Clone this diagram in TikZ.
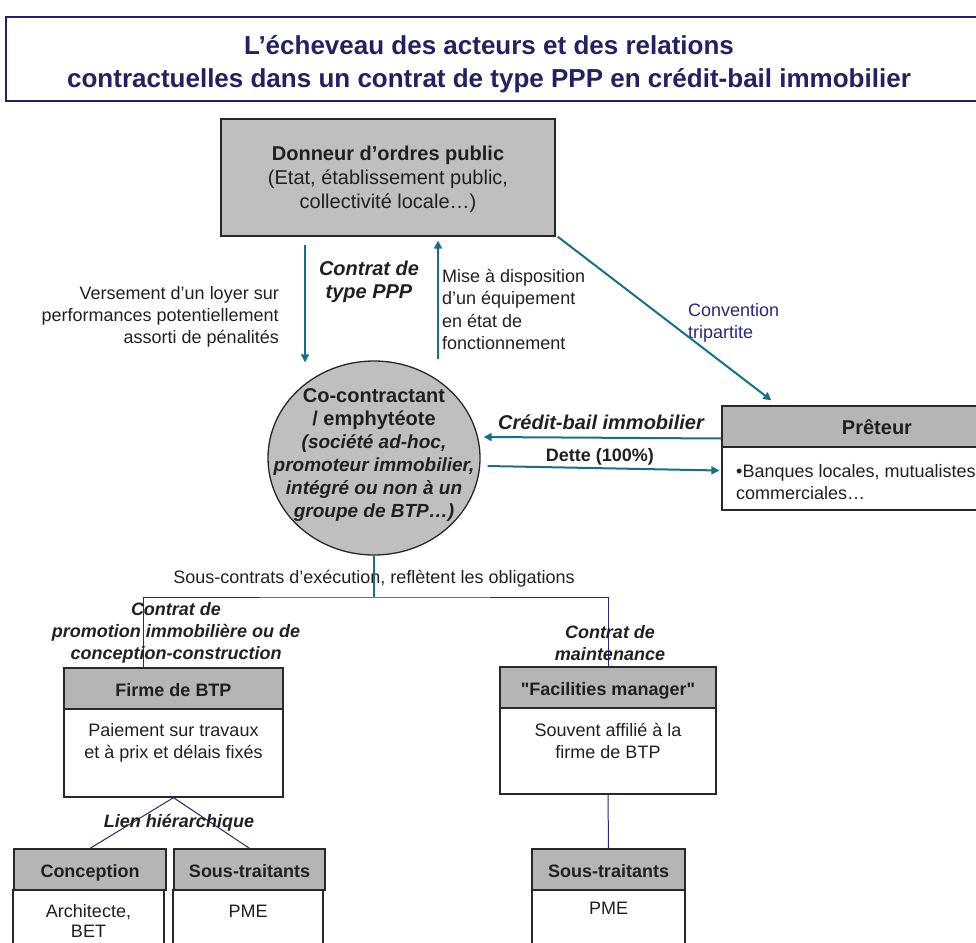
\documentclass[tikz,border=0pt]{standalone}
\usepackage{fontspec}
\setmainfont{Liberation Sans}[Ligatures=TeXOff]
\usetikzlibrary{shapes.geometric,arrows.meta}

\definecolor{navy}{RGB}{34,34,96}
\definecolor{linknavy}{RGB}{40,40,120}
\definecolor{petrol}{RGB}{26,112,130}
\definecolor{ink}{RGB}{35,31,32}
\definecolor{fillgrey}{RGB}{191,191,193}
\definecolor{headgrey}{RGB}{181,181,183}
\definecolor{edge}{RGB}{40,40,40}

\begin{document}
\begin{tikzpicture}[x=1pt,y=-1pt,
  every node/.style={inner sep=0pt,text=ink},
  headbox/.style={draw=edge,line width=1.3pt,fill=headgrey,text height=18pt,text depth=2pt,font=\fontsize{18}{22}\selectfont\bfseries},
  bodybox/.style={draw=edge,line width=1.3pt,fill=white},
  plain/.style={font=\fontsize{18}{22}\selectfont},
  bolditalic/.style={font=\fontsize{18}{22}\selectfont\bfseries\itshape},
  flow/.style={draw=petrol,line width=2pt,-{Triangle[width=8pt,length=8pt]}},
  tree/.style={draw=linknavy,line width=1pt}]
\useasboundingbox (0,0) rectangle (976,942);
\clip (0,0) rectangle (976,942);

% titre
\draw[navy,line width=1.5pt] (6,17) rectangle (995,101);
\draw (489,64.5) node[text=navy,align=center,font=\fontsize{26}{33}\selectfont\bfseries] (title) {L’écheveau des acteurs et des relations\\contractuelles dans un contrat de type PPP en crédit-bail immobilier};

% donneur d'ordres et co-contractant
\draw (388,177.5) node[draw=edge,line width=1.3pt,fill=fillgrey,minimum width=334pt,minimum height=117pt,text depth=0pt,align=center,font=\fontsize{20}{24}\selectfont] (don) {\textbf{Donneur d’ordres public}\\(Etat, établissement public,\\collectivité locale…)};

\draw (374,458) node[ellipse,draw=edge,line width=1.3pt,fill=fillgrey,minimum width=212pt,minimum height=194pt] (cc) {};
\draw (374,455) node[align=center,font=\fontsize{20}{23}\selectfont\bfseries] (cctext) {Co-contractant\\ / emphytéote\\ \fontsize{19}{23}\selectfont\itshape (société ad-hoc,\\ \fontsize{19}{23}\selectfont\itshape promoteur immobilier,\\ \fontsize{19}{23}\selectfont\itshape intégré ou non à un\\ \fontsize{19}{23}\selectfont\itshape groupe de BTP…)};

\draw (279,317) node[anchor=east,align=right,plain] (loyer) {Versement d’un loyer sur\\performances potentiellement\\assorti de pénalités};
\draw (369,282) node[align=center,font=\fontsize{20}{23}\selectfont\bfseries\itshape] (ppp) {Contrat de\\type PPP};
\draw (442,309.5) node[anchor=west,align=left,font=\fontsize{18}{22.5}\selectfont] (mise) {Mise à disposition\\d’un équipement\\en état de\\fonctionnement};

% preteur
\draw (877,426.5) node[headbox,font=\fontsize{20}{24}\selectfont\bfseries,minimum width=310pt,minimum height=41pt] (pret) {Prêteur};
\draw (877,478.5) node[bodybox,minimum width=310pt,minimum height=63pt] (pretbody) {};
\draw (736,482) node[anchor=west,align=left,plain] (banques) {•Banques locales, mutualistes\\commerciales…};
\draw (688,322.5) node[anchor=west,align=left,plain,text=linknavy] (conv) {Convention\\tripartite};
\draw (601,422) node[font=\fontsize{20}{24}\selectfont\bfseries\itshape] (cb) {Crédit-bail immobilier};
\draw (600,457) node[font=\fontsize{18}{22}\selectfont\bfseries] (dette) {Dette (100\%)};

\draw[flow] ([xshift=-83pt,yshift=-8.5pt]don.south) to ([xshift=-69pt,yshift=-2pt]cc.north);
\draw[flow] ([xshift=64pt,yshift=1pt]cc.north) to ([xshift=50pt,yshift=-4pt]don.south);
\draw[flow] ([xshift=2pt]don.south east) to ([xshift=50pt,yshift=5pt]pret.north west);
\draw[flow] ([yshift=-12pt]pret.west) to ([xshift=3pt,yshift=21pt]cc.east);
\draw[flow] ([xshift=7pt,yshift=-8pt]cc.east) to ([xshift=-2pt,yshift=8pt]pretbody.west);

% sous-contrats
\coordinate (split) at (374,597);
\draw (374,579) node[plain] (souscontrats) {Sous-contrats d’exécution, reflètent les obligations};

\draw (173.5,688.5) node[headbox,minimum width=219pt,minimum height=41pt] (btp) {Firme de BTP};
\draw (173.5,753) node[bodybox,minimum width=219pt,minimum height=88pt] (btpbody) {};
\draw (173.5,742.5) node[plain,align=center] (btptext) {Paiement sur travaux\\et à prix et délais fixés};

\draw (608,687.5) node[headbox,minimum width=216pt,minimum height=41pt] (fm) {"Facilities manager"};
\draw (608,751) node[bodybox,minimum width=216pt,minimum height=86pt] (fmbody) {};
\draw (608,741) node[plain,align=center] (fmtext) {Souvent affilié à la\\firme de BTP};

\draw[petrol,line width=1.5pt] (cc.south) to (split);
\draw[tree] ([xshift=-30.5pt]btp.north) |- (split) -| (fm.north);

\draw (176,633) node[bolditalic,align=center] (promo) {Contrat de\\promotion immobilière ou de\\conception-construction};
\draw (610,643) node[bolditalic,align=center] (maint) {Contrat de\\maintenance};

% niveau des sous-traitants
\draw (90,869.5) node[headbox,minimum width=152pt,minimum height=41pt] (conc) {Conception};
\draw (88.5,925) node[bodybox,minimum width=151pt,minimum height=70pt] (concbody) {};
\draw (88.5,921) node[align=center,font=\fontsize{18}{20}\selectfont] (conctext) {Architecte,\\BET};

\draw (249.5,869.5) node[headbox,minimum width=151pt,minimum height=41pt] (st1) {Sous-traitants};
\draw (248,925) node[bodybox,minimum width=150pt,minimum height=70pt] (st1body) {};
\draw (248,911) node[plain] (st1text) {PME};

\draw (608.5,869.5) node[headbox,minimum width=153pt,minimum height=41pt] (st2) {Sous-traitants};
\draw (608.5,925) node[bodybox,minimum width=153pt,minimum height=70pt] (st2body) {};
\draw (608.5,908) node[plain] (st2text) {PME};

\draw[tree] (btpbody.south) to (conc.north);
\draw[tree] (btpbody.south) to (st1.north);
\draw[tree] (fmbody.south) to (st2.north);
\draw (179,823) node[bolditalic] (lien) {Lien hiérarchique};
\end{tikzpicture}
\end{document}
